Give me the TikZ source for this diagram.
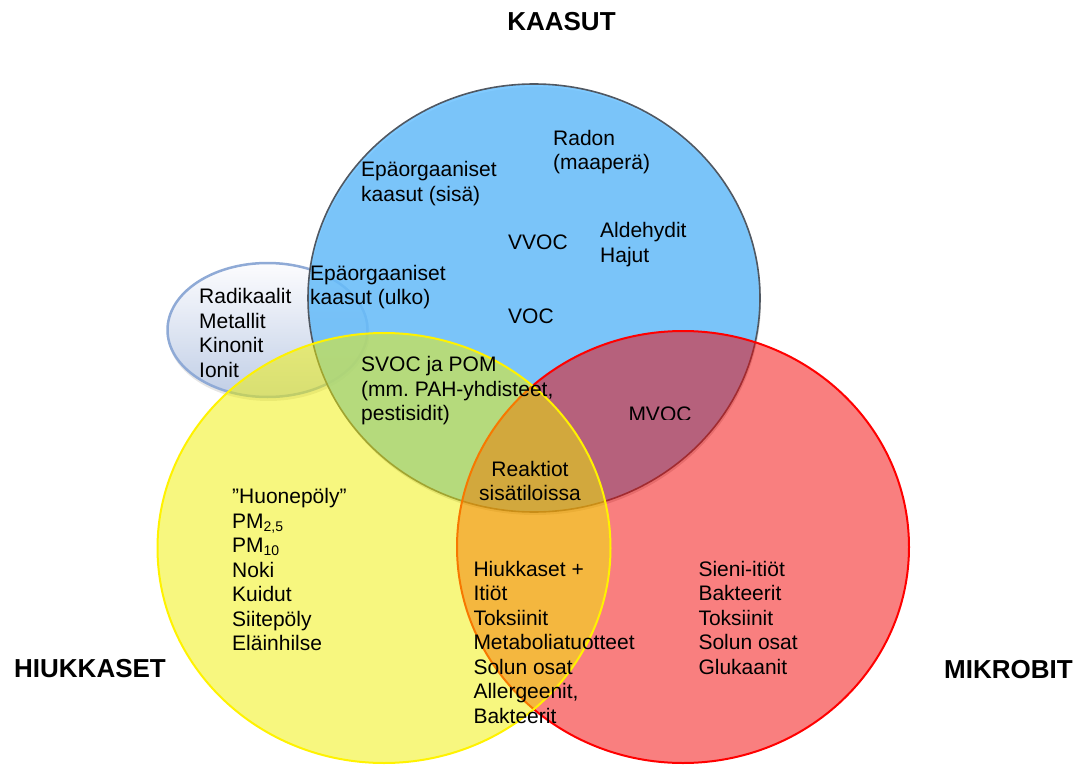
\documentclass[tikz,border=0pt]{standalone}
\usepackage{fontspec}
\setmainfont{Liberation Sans}
\definecolor{gasfill}{RGB}{106,193,255}
\definecolor{gasline}{RGB}{80,88,98}
\definecolor{microfill}{RGB}{243,0,0}
\definecolor{dustfill}{RGB}{240,240,0}
\definecolor{radtop}{RGB}{252,252,254}
\definecolor{radbot}{RGB}{192,206,230}
\definecolor{radline}{RGB}{143,170,214}
\newcommand{\pmsub}[1]{\raisebox{-3pt}{\fontsize{14}{14}\selectfont #1}}
\frenchspacing
\begin{document}
\begin{tikzpicture}[x=1pt,y=-1pt,
  lbl/.style={font=\fontsize{21}{24.5}\selectfont, align=left, inner sep=0pt, anchor=north west},
  ttl/.style={font=\fontsize{26}{30}\selectfont\bfseries, inner sep=0pt},
  setline/.style={line width=2pt},
]
\useasboundingbox (0,0) rectangle (1090,765);

% small ellipse: radicals, metals, quinones, ions
\fill[black, opacity=0.1] (268.5,333) ellipse [x radius=101pt, y radius=68pt];
\shade[top color=radtop, bottom color=radbot, draw=radline, line width=2.5pt]
  (267.5,330) ellipse [x radius=100pt, y radius=67pt];

% gases
\fill[black, opacity=0.15] (535,301) ellipse [x radius=226pt, y radius=214pt];
\path[fill=gasfill, fill opacity=0.85, draw=gasline, line width=1.6pt]
  (534,298) ellipse [x radius=226pt, y radius=214pt];

% microbes
\path[setline, fill=microfill, fill opacity=0.5, draw=red]
  (683,547) ellipse [x radius=226pt, y radius=216pt];

% particles
\path[setline, fill=dustfill, fill opacity=0.5, draw=yellow]
  (384,548) ellipse [x radius=226.5pt, y radius=215pt];

% set titles
\node[ttl, anchor=base] (tgas) at (561.5,31) {KAASUT};
\node[ttl, anchor=base west] (tdust) at (14,677) {HIUKKASET};
\node[ttl, anchor=base west] (tmicro) at (944,678) {MIKROBIT};

% labels
\node[lbl] (rad) at (199,284.3) {\rule{0pt}{19pt}Radikaalit\\Metallit\\Kinonit\\Ionit};
\node[lbl] (inorgout) at (310,261) {\rule{0pt}{19pt}Epäorgaaniset\\kaasut (ulko)};
\node[lbl] (inorgin) at (361,157.7) {\rule{0pt}{19pt}Epäorgaaniset\\kaasut (sisä)};
\node[lbl] (radon) at (553,126) {\rule{0pt}{19pt}Radon\\(maaperä)};
\node[lbl] (vvoc) at (508,230.5) {\rule{0pt}{19pt}VVOC};
\node[lbl] (ald) at (600,218.5) {\rule{0pt}{19pt}Aldehydit\\Hajut};
\node[lbl] (voc) at (508,304.5) {\rule{0pt}{19pt}VOC};
\node[lbl] (svoc) at (361,352.7) {\rule{0pt}{19pt}SVOC ja POM\\(mm. PAH-yhdisteet,\\pestisidit)};
\begin{scope}
  \clip (600,380) rectangle (720,419.3);
  \node[lbl] (mvoc) at (628.3,402) {\rule{0pt}{19pt}MVOC};
\end{scope}
\node[lbl, align=center, anchor=north] (react) at (530,457) {\rule{0pt}{19pt}Reaktiot\\sisätiloissa};
\node[lbl] (dust) at (232,484.3) {\rule{0pt}{19pt}”Huonepöly”\\PM\pmsub{2,5}\\PM\pmsub{10}\\Noki\\Kuidut\\Siitepöly\\Eläinhilse};
\node[lbl] (both) at (473.3,557) {\rule{0pt}{19pt}Hiukkaset +\\Itiöt\\Toksiinit\\Metaboliatuotteet\\Solun osat\\Allergeenit,\\Bakteerit};
\node[lbl] (micro) at (698.3,557) {\rule{0pt}{19pt}Sieni-itiöt\\Bakteerit\\Toksiinit\\Solun osat\\Glukaanit};
\end{tikzpicture}
\end{document}
